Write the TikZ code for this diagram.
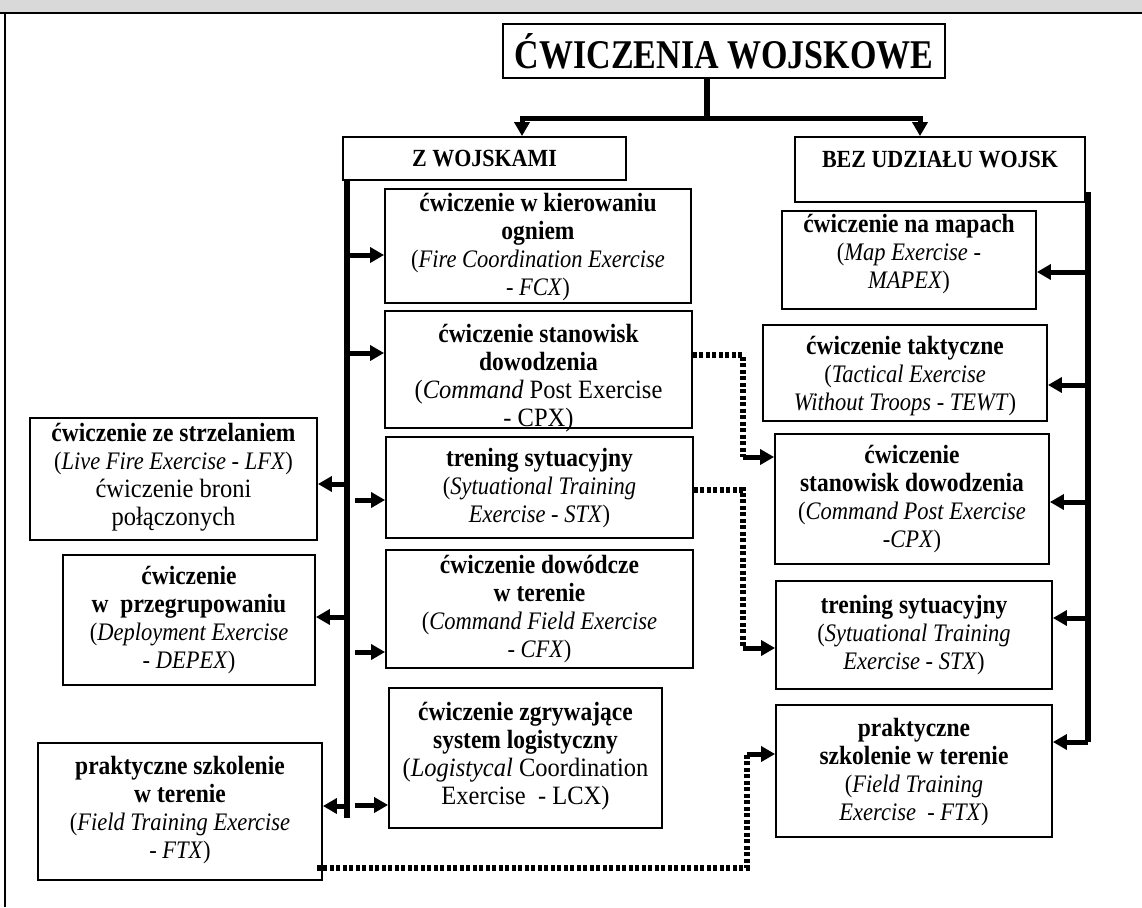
\documentclass[tikz,border=0pt]{standalone}
\usepackage{fontspec}
\usepackage{graphicx}
\setmainfont{Liberation Serif}
\usetikzlibrary{arrows.meta}

% text line kinds: bold heading line, italic line, larger upright line
\newcommand{\Bl}[1]{{\fontsize{23.5}{28}\selectfont\rmfamily\bfseries\scalebox{1}[1.12]{#1}}}
\newcommand{\Ln}[1]{{\fontsize{22.5}{28}\selectfont\rmfamily\scalebox{1}[1.12]{#1}}}
\newcommand{\Up}[1]{{\fontsize{24.5}{28}\selectfont\rmfamily\scalebox{1}[1.08]{#1}}}
\newcommand{\Hd}[1]{{\fontsize{22}{26}\selectfont\rmfamily\bfseries\scalebox{1}[1.12]{#1}}}

\tikzset{
  box/.style={draw, line width=1.8pt, rectangle, inner sep=0pt},
  txt/.style={align=center, inner sep=0pt, font=\fontsize{22}{28}\selectfont\rmfamily},
  bus/.style={line width=5.5pt},
  arr/.style={line width=5pt, -{Triangle[length=14pt,width=15pt]}},
  dots/.style={line width=6pt, dash pattern=on 4pt off 2.5pt},
}

% framed box given by its corners (px), with its text shifted by dy
\newcommand{\tbox}[7]{%
  \node[box, minimum width={(#4-#2)*1pt}, minimum height={(#5-#3)*1pt}]
    (#1) at ({(#2+#4)/2},{(#3+#5)/2}) {};
  \node[txt] (#1t) at ([yshift={-1pt*(#6)}]#1.center) {#7};
}

\begin{document}
\begin{tikzpicture}[x=1pt, y=-1pt]
\useasboundingbox (0,0) rectangle (1142,907);

% page edge and frame
\fill[gray!30] (0,0) rectangle (1142,12);
\draw[line width=2.5pt] (0,13) -- (1142,13);
\draw[line width=2pt] (5,13) -- (5,907);

% title
\node[box, minimum width=442pt, minimum height=54pt] (title) at (724,51)
  {\fontsize{34}{40}\selectfont\rmfamily\bfseries\scalebox{1}[1.2]{ĆWICZENIA WOJSKOWE}};

% two branches
\tbox{zw}{343}{137}{626}{180}{0}{\Hd{Z WOJSKAMI}}
\tbox{bez}{795}{137}{1085}{202}{-10}{\Hd{BEZ UDZIAŁU WOJSK}}

% middle column
\tbox{fcx}{385}{189}{691}{303}{1}{\Bl{ćwiczenie w kierowaniu}\\ \Bl{ogniem}\\
  \Ln{(\textit{Fire Coordination Exercise}}\\ \Ln{\textit{- FCX})}}
\tbox{cpxL}{385}{311}{692}{428}{9}{\Bl{ćwiczenie stanowisk}\\ \Bl{dowodzenia}\\
  \Up{(\textit{Command} Post Exercise}\\ \Up{- CPX)}}
\tbox{stxL}{386}{437}{693}{538}{1}{\Bl{trening sytuacyjny}\\
  \Ln{(\textit{Sytuational Training}}\\ \Ln{\textit{Exercise - STX})}}
\tbox{cfx}{386}{550}{693}{668}{0}{\Bl{ćwiczenie dowódcze}\\ \Bl{w terenie}\\
  \Ln{(\textit{Command Field Exercise}}\\ \Ln{\textit{- CFX})}}
\tbox{lcx}{389}{688}{662}{828}{-2}{\Bl{ćwiczenie zgrywające}\\ \Bl{system logistyczny}\\
  \Up{(\textit{Logistycal} Coordination}\\ \Up{Exercise\ \ - LCX)}}

% left column
\tbox{lfx}{30}{418}{317}{540}{-2}{\Bl{ćwiczenie ze strzelaniem}\\
  \Ln{(\textit{Live Fire Exercise - LFX})}\\ \Up{ćwiczenie broni}\\ \Up{połączonych}}
\tbox{depex}{63}{555}{315}{685}{0}{\Bl{ćwiczenie}\\ \Bl{w\ \ przegrupowaniu}\\
  \Ln{(\textit{Deployment Exercise}}\\ \Ln{\textit{- DEPEX})}}
\tbox{ftxL}{38}{743}{322}{880}{-1}{\Bl{praktyczne szkolenie}\\ \Bl{w terenie}\\
  \Ln{(\textit{Field Training Exercise}}\\ \Ln{\textit{- FTX})}}

% right column
\tbox{mapex}{782}{211}{1036}{309}{-6}{\Bl{ćwiczenie na mapach}\\
  \Ln{(\textit{Map Exercise -}}\\ \Ln{\textit{MAPEX})}}
\tbox{tewt}{763}{325}{1047}{421}{3}{\Bl{ćwiczenie taktyczne}\\
  \Ln{(\textit{Tactical Exercise}}\\ \Ln{\textit{Without Troops - TEWT})}}
\tbox{cpxR}{775}{434}{1049}{564}{0}{\Bl{ćwiczenie}\\ \Bl{stanowisk dowodzenia}\\
  \Ln{(\textit{Command Post Exercise}}\\ \Ln{\textit{-CPX})}}
\tbox{stxR}{776}{581}{1052}{689}{0}{\Bl{trening sytuacyjny}\\
  \Ln{(\textit{Sytuational Training}}\\ \Ln{\textit{Exercise - STX})}}
\tbox{ftxR}{776}{705}{1052}{837}{1}{\Bl{praktyczne}\\ \Bl{szkolenie w terenie}\\
  \Ln{(\textit{Field Training}}\\ \Ln{\textit{Exercise\ \ - FTX})}}

% split below the title
\coordinate (split) at (707,118);
\draw[bus] (title.south -| split) -- (split);
\draw[arr] (split) -| ([xshift=37.5pt]zw.north);
\draw[arr] (split) -| ([xshift=-20pt]bez.north);

% left bus and its branches
\coordinate (lbTop) at (347,180);
\coordinate (lbBot) at (347,818);
\draw[bus] (lbTop) -- (lbBot);
\draw[arr] (lbTop |- 0,255) -- (fcx.west |- 0,255);
\draw[arr] (lbTop |- 0,353) -- (cpxL.west |- 0,353);
\draw[arr] ([xshift=8pt]lbTop |- 0,500) -- (stxL.west |- 0,500);
\draw[arr] ([xshift=8pt]lbTop |- 0,652) -- (cfx.west |- 0,652);
\draw[arr] ([xshift=8pt]lbTop |- 0,805) -- (lcx.west |- 0,805);
\draw[arr] (lbTop |- 0,484) -- (lfx.east |- 0,484);
\draw[arr] (lbTop |- 0,617) -- (depex.east |- 0,617);
\draw[arr] (lbTop |- 0,806) -- (ftxL.east |- 0,806);

% right bus and its branches
\coordinate (rbTop) at (1088,192);
\coordinate (rbBot) at (1088,742);
\draw[bus] (rbTop) -- (rbBot);
\draw[arr] (rbBot) -- (ftxR.east |- rbBot);
\draw[arr] (rbTop |- 0,272) -- (mapex.east |- 0,272);
\draw[arr] (rbTop |- 0,385) -- (tewt.east |- 0,385);
\draw[arr] (rbTop |- 0,502) -- (cpxR.east |- 0,502);
\draw[arr] (rbTop |- 0,618) -- (stxR.east |- 0,618);

% dotted cross links
\coordinate (d1) at (743,457);
\coordinate (d2) at (743,648);
\coordinate (d3) at (747,754);
\draw[dots] (cpxL.east |- 0,355) -| (d1);
\draw[arr] (d1) -- (cpxR.west |- d1);
\draw[dots] (stxL.east |- 0,490) -| (d2);
\draw[arr] (d2) -- (stxR.west |- d2);
\draw[dots] ([xshift=-6pt]ftxL.east |- 0,868) -| (d3);
\draw[arr] (d3) -- (ftxR.west |- d3);
\end{tikzpicture}
\end{document}
